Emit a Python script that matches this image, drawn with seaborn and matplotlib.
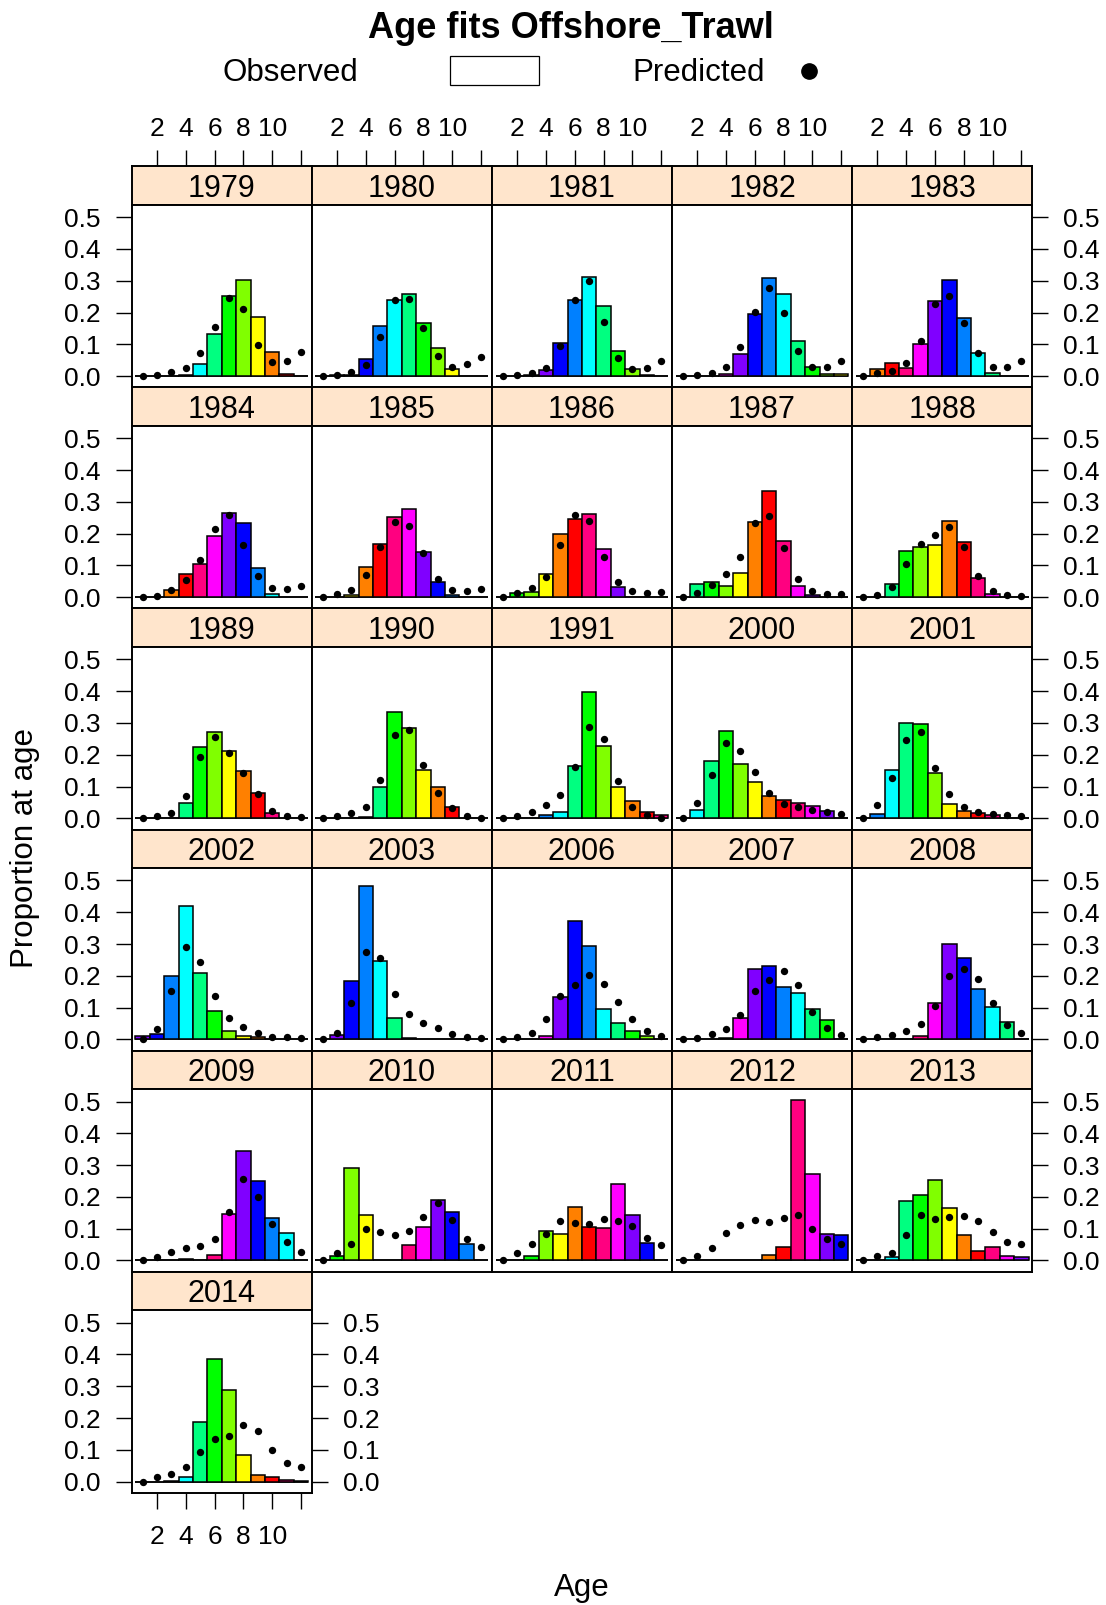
import numpy as np
import pandas as pd
import matplotlib
matplotlib.use("Agg")
import matplotlib.pyplot as plt
import seaborn as sns
from matplotlib.patches import Rectangle
from matplotlib.lines import Line2D

sns.set_theme(style="white")
plt.rcParams["font.family"] = ["Liberation Sans", "DejaVu Sans"]
plt.rcParams["text.color"] = "black"
plt.rcParams["axes.labelcolor"] = "black"

# ---- data: proportion at age (ages 1..12), observed bars and predicted points ----
ages = [1, 2, 3, 4, 5, 6, 7, 8, 9, 10, 11, 12]
years = [1979, 1980, 1981, 1982, 1983, 1984, 1985, 1986, 1987, 1988,
         1989, 1990, 1991, 2000, 2001, 2002, 2003, 2006, 2007, 2008,
         2009, 2010, 2011, 2012, 2013, 2014]

obs_1979 = [0, 0, 0, 0.003, 0.038, 0.132, 0.253, 0.301, 0.186, 0.077, 0.007, 0.001]
pred_1979 = [0, 0.003, 0.012, 0.027, 0.072, 0.156, 0.245, 0.212, 0.099, 0.043, 0.049, 0.075]
obs_1980 = [0, 0.002, 0.003, 0.053, 0.157, 0.239, 0.257, 0.168, 0.088, 0.023, 0, 0]
pred_1980 = [0, 0.002, 0.012, 0.036, 0.124, 0.240, 0.243, 0.150, 0.063, 0.028, 0.037, 0.061]
obs_1981 = [0, 0, 0.002, 0.018, 0.105, 0.240, 0.311, 0.219, 0.079, 0.021, 0.002, 0]
pred_1981 = [0, 0.002, 0.009, 0.027, 0.096, 0.239, 0.300, 0.171, 0.057, 0.022, 0.026, 0.046]
obs_1982 = [0, 0, 0, 0.005, 0.071, 0.195, 0.309, 0.259, 0.110, 0.029, 0.005, 0.008]
pred_1982 = [0, 0.003, 0.010, 0.030, 0.090, 0.201, 0.277, 0.198, 0.079, 0.028, 0.029, 0.047]
obs_1983 = [0, 0.022, 0.041, 0.027, 0.102, 0.235, 0.302, 0.184, 0.072, 0.010, 0.001, 0]
pred_1983 = [0, 0.009, 0.016, 0.040, 0.111, 0.226, 0.253, 0.166, 0.072, 0.029, 0.029, 0.046]
obs_1984 = [0, 0, 0.023, 0.074, 0.104, 0.192, 0.264, 0.235, 0.092, 0.011, 0.002, 0]
pred_1984 = [0, 0.005, 0.022, 0.054, 0.116, 0.213, 0.260, 0.165, 0.066, 0.028, 0.025, 0.036]
obs_1985 = [0, 0, 0.008, 0.095, 0.168, 0.253, 0.276, 0.142, 0.047, 0.007, 0, 0]
pred_1985 = [0, 0.011, 0.022, 0.069, 0.158, 0.237, 0.223, 0.138, 0.058, 0.024, 0.019, 0.025]
obs_1986 = [0, 0.013, 0.017, 0.073, 0.199, 0.247, 0.262, 0.152, 0.032, 0.002, 0, 0]
pred_1986 = [0, 0.014, 0.028, 0.063, 0.163, 0.258, 0.239, 0.128, 0.048, 0.019, 0.014, 0.016]
obs_1987 = [0, 0.042, 0.049, 0.034, 0.075, 0.238, 0.334, 0.178, 0.036, 0.007, 0, 0]
pred_1987 = [0, 0.012, 0.039, 0.073, 0.127, 0.233, 0.257, 0.154, 0.057, 0.018, 0.009, 0.009]
obs_1988 = [0, 0.002, 0.041, 0.145, 0.159, 0.163, 0.239, 0.173, 0.060, 0.009, 0.001, 0]
pred_1988 = [0, 0.007, 0.033, 0.106, 0.167, 0.197, 0.222, 0.158, 0.066, 0.019, 0.007, 0.005]
obs_1989 = [0, 0, 0.002, 0.048, 0.223, 0.271, 0.212, 0.148, 0.080, 0.017, 0.002, 0]
pred_1989 = [0, 0.007, 0.018, 0.071, 0.192, 0.257, 0.207, 0.144, 0.075, 0.024, 0.008, 0.003]
obs_1990 = [0, 0, 0, 0.004, 0.100, 0.333, 0.283, 0.151, 0.100, 0.034, 0.001, 0]
pred_1990 = [0, 0.007, 0.017, 0.037, 0.119, 0.262, 0.279, 0.167, 0.078, 0.032, 0.008, 0.002]
obs_1991 = [0, 0, 0.002, 0.009, 0.019, 0.163, 0.398, 0.228, 0.097, 0.053, 0.021, 0.009]
pred_1991 = [0, 0.008, 0.019, 0.042, 0.072, 0.161, 0.288, 0.249, 0.116, 0.036, 0.011, 0.002]
obs_2000 = [0, 0.026, 0.181, 0.275, 0.172, 0.114, 0.069, 0.057, 0.048, 0.040, 0.024, 0]
pred_2000 = [0, 0.049, 0.135, 0.237, 0.213, 0.146, 0.078, 0.044, 0.036, 0.027, 0.019, 0.013]
obs_2001 = [0, 0.015, 0.151, 0.299, 0.297, 0.142, 0.044, 0.024, 0.016, 0.011, 0.002, 0]
pred_2001 = [0, 0.042, 0.127, 0.247, 0.271, 0.159, 0.077, 0.037, 0.019, 0.014, 0.009, 0.007]
obs_2002 = [0.012, 0.017, 0.200, 0.420, 0.210, 0.090, 0.026, 0.011, 0.006, 0.002, 0.001, 0]
pred_2002 = [0, 0.033, 0.153, 0.292, 0.244, 0.137, 0.067, 0.039, 0.021, 0.009, 0.006, 0.004]
obs_2003 = [0, 0.013, 0.185, 0.483, 0.247, 0.068, 0.005, 0.002, 0, 0, 0, 0]
pred_2003 = [0, 0.019, 0.113, 0.276, 0.257, 0.143, 0.079, 0.050, 0.035, 0.017, 0.006, 0.003]
obs_2006 = [0, 0, 0, 0.011, 0.133, 0.374, 0.294, 0.097, 0.050, 0.027, 0.012, 0]
pred_2006 = [0, 0.007, 0.020, 0.064, 0.138, 0.172, 0.203, 0.173, 0.117, 0.065, 0.027, 0.011]
obs_2007 = [0, 0, 0, 0.004, 0.068, 0.223, 0.230, 0.165, 0.146, 0.097, 0.062, 0]
pred_2007 = [0, 0.005, 0.016, 0.034, 0.077, 0.151, 0.188, 0.216, 0.170, 0.086, 0.036, 0.015]
obs_2008 = [0, 0, 0, 0, 0.011, 0.113, 0.300, 0.256, 0.158, 0.103, 0.056, 0]
pred_2008 = [0, 0.009, 0.015, 0.027, 0.047, 0.105, 0.201, 0.220, 0.191, 0.113, 0.045, 0.021]
obs_2009 = [0, 0, 0.001, 0.004, 0.001, 0.018, 0.146, 0.346, 0.251, 0.135, 0.086, 0]
pred_2009 = [0, 0.012, 0.027, 0.038, 0.046, 0.068, 0.152, 0.256, 0.200, 0.114, 0.058, 0.026]
obs_2010 = [0, 0.014, 0.292, 0.143, 0.002, 0.001, 0.048, 0.104, 0.191, 0.151, 0.051, 0]
pred_2010 = [0, 0.025, 0.053, 0.100, 0.091, 0.079, 0.094, 0.136, 0.180, 0.128, 0.068, 0.041]
obs_2011 = [0, 0.001, 0.013, 0.094, 0.082, 0.167, 0.106, 0.101, 0.242, 0.143, 0.056, 0]
pred_2011 = [0, 0.023, 0.051, 0.084, 0.125, 0.117, 0.115, 0.131, 0.123, 0.107, 0.070, 0.048]
obs_2012 = [0, 0, 0, 0, 0, 0.003, 0.016, 0.043, 0.504, 0.273, 0.084, 0.080]
pred_2012 = [0, 0.013, 0.040, 0.086, 0.111, 0.128, 0.121, 0.133, 0.142, 0.099, 0.068, 0.052]
obs_2013 = [0, 0.001, 0.010, 0.186, 0.206, 0.252, 0.166, 0.081, 0.030, 0.043, 0.014, 0.010]
pred_2013 = [0, 0.014, 0.024, 0.079, 0.144, 0.131, 0.136, 0.140, 0.125, 0.091, 0.058, 0.052]
obs_2014 = [0, 0, 0.001, 0.015, 0.186, 0.386, 0.289, 0.085, 0.021, 0.016, 0.005, 0.002]
pred_2014 = [0, 0.014, 0.024, 0.046, 0.094, 0.133, 0.143, 0.177, 0.160, 0.098, 0.060, 0.046]

# cohort colours cycle through a 12-step rainbow
rainbow12 = ["#FF0000", "#FF8000", "#FFFF00", "#80FF00", "#00FF00", "#00FF80",
             "#00FFFF", "#0080FF", "#0000FF", "#8000FF", "#FF00FF", "#FF0080"]
cohort_base = 1968

y_ticks = [0.0, 0.1, 0.2, 0.3, 0.4, 0.5]
x_ticks = [2, 4, 6, 8, 10, 12]
x_ticklabels = ["2", "4", "6", "8", "10", ""]

# ---- long table built from the per-year arrays ----
rows = []
for yr in years:
    o = globals()[f"obs_{yr}"]
    p = globals()[f"pred_{yr}"]
    for a, ov, pv in zip(ages, o, p):
        rows.append({"year": yr, "age": a, "obs": ov, "pred": pv,
                     "cohort": str(yr - a)})
df = pd.DataFrame(rows)
palette = {c: rainbow12[(int(c) - cohort_base) % 12] for c in df["cohort"].unique()}

ymax = max(df["obs"].max(), df["pred"].max())
ylim = (-0.07 * ymax, ymax * 1.07)
xlim = (0.25, 12.75)

# ---- page geometry (pixels) ----
W, H = 1106, 1605
fig = plt.figure(figsize=(W / 100, H / 100), dpi=100)
fig.patch.set_facecolor("white")


def box(x0, y0, w, h):
    return [x0 / W, 1 - (y0 + h) / H, w / W, h / H]


ncol = 5
left0, col_w = 131.7, 180.1
top0, row_h = 166.2, 221.1
strip_h = 38.5
panel_h = row_h - strip_h

TICK_FS = 19
STRIP_FS = 22
LAB_FS = 22.5
tick_len = 11.5
frame_lw = 1.4
bar_lw = 1.1

for i, yr in enumerate(years):
    r, c = divmod(i, ncol)
    x0 = left0 + c * col_w
    y0 = top0 + r * row_h
    d = df[df["year"] == yr]
    last = (i == len(years) - 1)

    # strip with the year
    axs = fig.add_axes(box(x0, y0, col_w, strip_h))
    axs.set_facecolor("#FFE5CC")
    axs.set_xlim(xlim)
    axs.set_ylim(0, 1)
    axs.set_yticks([])
    axs.text(0.5, 0.42, str(yr), transform=axs.transAxes, ha="center",
             va="center", fontsize=STRIP_FS, color="black")
    for s in axs.spines.values():
        s.set_linewidth(frame_lw)
        s.set_color("black")
    if r == 0:
        axs.xaxis.tick_top()
        axs.set_xticks(x_ticks)
        axs.set_xticklabels(x_ticklabels)
        axs.tick_params(axis="x", top=True, bottom=False, labeltop=True,
                        labelbottom=False, length=tick_len, width=1.0,
                        pad=6.5, labelsize=TICK_FS, colors="black")
    else:
        axs.set_xticks([])

    # panel
    ax = fig.add_axes(box(x0, y0 + strip_h, col_w, panel_h))
    # bar outline along the zero level (empty age classes show as a flat line)
    ax.hlines(0, min(ages) - 0.5, max(ages) + 0.5, color="black",
              linewidth=bar_lw, zorder=1)
    sns.barplot(data=d, x="age", y="obs", hue="cohort", palette=palette,
                dodge=False, native_scale=True, width=1.0, saturation=1,
                edgecolor="black", linewidth=bar_lw, errorbar=None,
                legend=False, ax=ax)
    sns.scatterplot(data=d, x="age", y="pred", color="black", s=28,
                    linewidth=0, zorder=5, ax=ax)
    ax.set_xlim(xlim)
    ax.set_ylim(ylim)
    ax.set_xlabel("")
    ax.set_ylabel("")
    ax.set_facecolor("white")
    for s in ax.spines.values():
        s.set_linewidth(frame_lw)
        s.set_color("black")

    ax.set_yticks(y_ticks)
    ax.set_yticklabels([f"{v:.1f}" for v in y_ticks])
    show_left = (c == 0)
    show_right = (c == ncol - 1) or last
    ax.tick_params(axis="y", left=show_left, labelleft=show_left,
                   right=show_right, labelright=show_right,
                   length=tick_len, width=1.0, pad=11,
                   labelsize=TICK_FS, colors="black")
    ax.set_xticks(x_ticks)
    ax.set_xticklabels(x_ticklabels)
    ax.tick_params(axis="x", bottom=last, labelbottom=last, top=False,
                   labeltop=False, length=tick_len, width=1.0, pad=12,
                   labelsize=TICK_FS, colors="black")

# ---- title, key and axis labels ----
fig.text(571 / W, 1 - 29 / H, "Age fits Offshore_Trawl", ha="center",
         va="center", fontsize=26, fontweight="bold", color="black")
fig.text(290 / W, 1 - 73 / H, "Observed", ha="center", va="center",
         fontsize=LAB_FS, color="black")
fig.add_artist(Rectangle((450 / W, 1 - 85 / H), 89 / W, 29 / H,
                         transform=fig.transFigure, facecolor="white",
                         edgecolor="black", linewidth=0.9))
fig.text(699 / W, 1 - 73 / H, "Predicted", ha="center", va="center",
         fontsize=LAB_FS, color="black")
fig.add_artist(Line2D([809 / W], [1 - 71 / H], marker="o", markersize=11,
                      color="black", transform=fig.transFigure))

fig.text(582 / W, 1 - 1588 / H, "Age", ha="center", va="center",
         fontsize=LAB_FS, color="black")
fig.text(25.5 / W, 1 - 848 / H, "Proportion at age", ha="center",
         va="center", rotation=90, fontsize=LAB_FS, color="black")

fig.savefig("out.png", dpi=100, facecolor="white")
